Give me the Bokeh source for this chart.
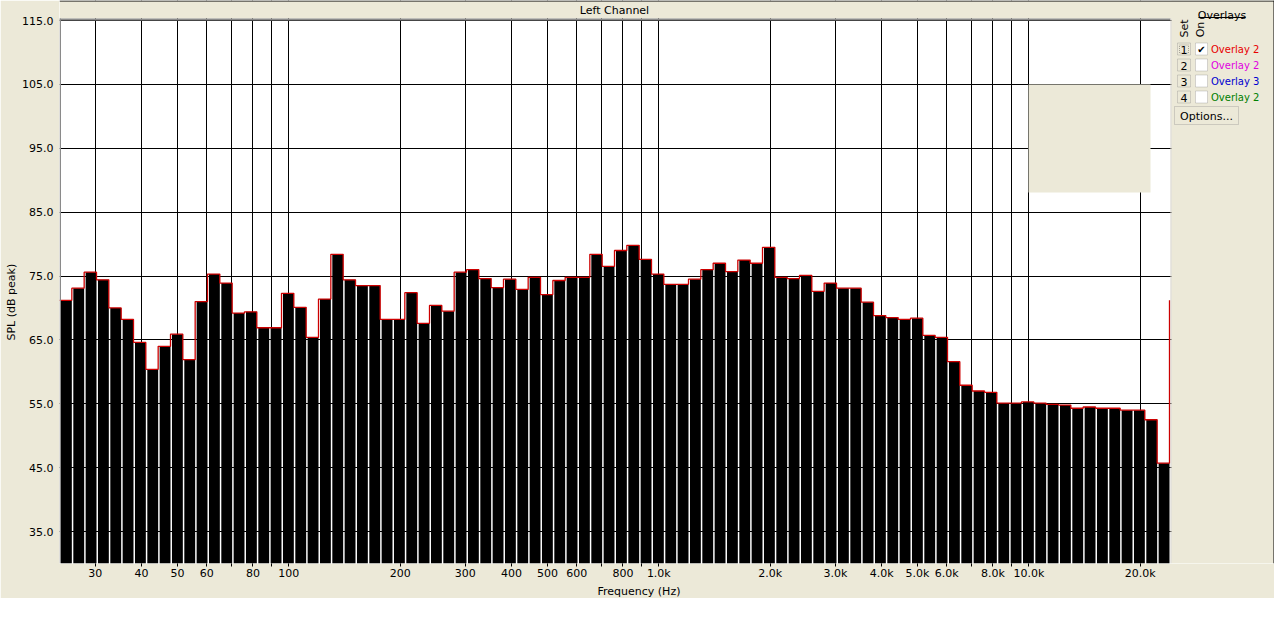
import numpy as np
from bokeh.plotting import figure
from bokeh.models import (Range1d, FixedTicker, CustomJSTickFormatter,
                          PrintfTickFormatter, Label, BoxAnnotation, LinearScale, Title)
from bokeh.embed import file_html
from bokeh.resources import INLINE

# ---------------- data ----------------
spl_db = [71.2, 73.1, 75.6, 74.4, 70.0, 68.2, 64.6, 60.4, 64.0, 65.9,
          61.9, 71.0, 75.3, 73.9, 69.2, 69.4, 66.9, 66.9, 72.3, 70.1,
          65.4, 71.4, 78.4, 74.4, 73.5, 73.5, 68.2, 68.2, 72.4, 67.6,
          70.4, 69.5, 75.6, 76.0, 74.6, 73.2, 74.5, 72.9, 74.8, 72.1,
          74.3, 74.8, 74.8, 78.4, 76.5, 79.0, 79.8, 77.6, 75.3, 73.7,
          73.7, 74.5, 76.0, 77.0, 75.7, 77.5, 77.0, 79.5, 74.8, 74.6,
          75.1, 72.6, 73.9, 73.1, 73.1, 70.9, 68.8, 68.5, 68.2, 68.4,
          65.7, 65.4, 61.6, 57.9, 57.0, 56.8, 55.1, 55.1, 55.3, 55.1,
          54.9, 54.8, 54.3, 54.5, 54.3, 54.3, 54.0, 54.0, 52.5, 45.7]

freq_min_hz = 24.0
freq_max_hz = 24000.0
bands_per_decade = 30
y_min, y_max = 30.0, 115.0

grid_freqs = [30, 40, 50, 60, 70, 80, 90,
              100, 200, 300, 400, 500, 600, 700, 800, 900,
              1000, 2000, 3000, 4000, 5000, 6000, 7000, 8000, 9000,
              10000, 20000]
label_freqs = [30, 40, 50, 60, 80, 100, 200, 300, 400, 500, 600, 800,
               1000, 2000, 3000, 4000, 5000, 6000, 8000, 10000, 20000]
label_texts = ["30", "40", "50", "60", "80", "100", "200", "300", "400",
               "500", "600", "800", "1.0k", "2.0k", "3.0k", "4.0k", "5.0k",
               "6.0k", "8.0k", "10.0k", "20.0k"]
y_ticks = [35, 45, 55, 65, 75, 85, 95, 105, 115]

overlay_names = ["Overlay 2", "Overlay 2", "Overlay 3", "Overlay 2"]
overlay_colors = ["#E80000", "#E000E0", "#0000D0", "#008000"]
overlay_on = [True, False, False, False]

# ---------------- layout (canvas pixels) ----------------
FONT = "DejaVu Sans"
BEIGE = "#ECE9D8"
W, H = 1274, 598
PLOT_L, PLOT_R, PLOT_T, PLOT_B = 59, 1169, 20, 563   # data area in the window
FRAME_T = 0                                           # frame extends to top / right edge

dec_px = (PLOT_R - PLOT_L) / np.log10(freq_max_hz / freq_min_hz)
x_end = freq_max_hz * 10 ** ((W - PLOT_R) / dec_px)
db_px = (PLOT_B - PLOT_T) / (y_max - y_min)
y_end = y_max + (PLOT_T - FRAME_T) / db_px

n = len(spl_db)
idx = np.arange(n)
edges = freq_min_hz * 10 ** (np.arange(n + 1) / bands_per_decade)
bar_left = freq_min_hz * 10 ** ((idx + 0.12) / bands_per_decade)
bar_right = edges[1:]

p = figure(width=W, height=H, x_axis_type="log",
           x_range=Range1d(freq_min_hz, x_end),
           y_range=Range1d(y_min, y_end),
           output_backend="svg", toolbar_location=None,
           min_border_left=PLOT_L, min_border_right=0,
           min_border_top=FRAME_T, min_border_bottom=H - PLOT_B,
           background_fill_color="white", border_fill_color=BEIGE,
           outline_line_color=None)

# linear pixel coordinate system for decorations (canvas pixels, y down)
p.extra_x_ranges = {"px": Range1d(PLOT_L, W)}
p.extra_y_ranges = {"px": Range1d(PLOT_B, FRAME_T)}
p.extra_x_scales = {"px": LinearScale()}
p.extra_y_scales = {"px": LinearScale()}

# grid / axes
xt = FixedTicker(ticks=grid_freqs, minor_ticks=[])
yt = FixedTicker(ticks=y_ticks, minor_ticks=[])
p.xaxis.ticker = xt
p.yaxis.ticker = yt
p.xgrid.ticker = xt
p.ygrid.ticker = yt
for g in (p.xgrid, p.ygrid):
    g.grid_line_color = "black"
    g.grid_line_alpha = 1.0
    g.grid_line_width = 1

p.xaxis.formatter = CustomJSTickFormatter(
    args=dict(vals=label_freqs, labs=label_texts),
    code="""
    for (let i = 0; i < vals.length; i++) {
        if (Math.abs(vals[i] - tick) < 1e-6 * vals[i]) return labs[i];
    }
    return "";
    """)
p.yaxis.formatter = PrintfTickFormatter(format="%.1f")

ax = p.xaxis[0]
ax.axis_line_color = None
ax.major_tick_out = 3
ax.major_tick_in = 0
ax.major_tick_line_color = "black"
ax.minor_tick_line_color = None
ax.major_label_standoff = 0
ax.axis_label_standoff = 0
ax.major_label_text_font = FONT
ax.major_label_text_font_size = "11px"
ax.major_label_text_color = "black"

ay = p.yaxis[0]
ay.axis_line_color = None
ay.major_tick_out = 0
ay.major_tick_in = 0
ay.major_tick_line_color = None
ay.minor_tick_line_color = None
ay.major_label_standoff = 6
ay.axis_label_standoff = 0
ay.major_label_text_font = FONT
ay.major_label_text_font_size = "11px"
ay.major_label_text_color = "black"

# axis titles placed in the side panels
p.add_layout(Title(text="Frequency (Hz)", align="left", offset=538, standoff=0,
                   text_font=FONT, text_font_size="11px", text_font_style="normal",
                   text_color="black"), "below")
p.add_layout(Title(text="SPL (dB peak)", align="left", offset=223, standoff=3,
                   text_font=FONT, text_font_size="11px", text_font_style="normal",
                   text_color="black"), "left")

# bars
p.quad(left=bar_left, right=bar_right, bottom=y_min, top=spl_db,
       fill_color="black", line_color=None)

# overlay outline (step line)
vals = np.array(spl_db)
sx = list(np.repeat(edges, 2)[1:-1]) + [edges[-1]]
sy = list(np.repeat(vals, 2)) + [vals[0]]
p.line(sx, sy, line_color="#CC0000", line_width=1.3)


def px_box(l, r, t, b, **kw):
    box = BoxAnnotation(left=l, right=r, top=t, bottom=b,
                        x_range_name="px", y_range_name="px", **kw)
    p.add_layout(box)
    return box


def px_label(x, y, text, size="11px", color="black", align="left",
             baseline="middle", angle=0.0):
    lab = Label(x=x, y=y, text=text, x_range_name="px", y_range_name="px",
                text_font=FONT, text_font_size=size, text_color=color,
                text_align=align, text_baseline=baseline, angle=angle)
    p.add_layout(lab)
    return lab


# window chrome: header strip and right panel in beige
px_box(PLOT_L, W, FRAME_T, PLOT_T - 2, fill_color=BEIGE, fill_alpha=1, line_color=None)
px_box(PLOT_R + 2, W, FRAME_T, PLOT_B, fill_color=BEIGE, fill_alpha=1, line_color=None)
# plot area borders
px_box(PLOT_L, PLOT_R + 1, PLOT_T - 2, PLOT_T, fill_color="#8A8A8A", fill_alpha=1, line_color=None)
px_box(PLOT_L, PLOT_L + 1.5, PLOT_T - 2, PLOT_B, fill_color="#8A8A8A", fill_alpha=1, line_color=None)
px_box(PLOT_R + 1, PLOT_R + 2, PLOT_T - 2, PLOT_B, fill_color="#D4D0C8", fill_alpha=1, line_color=None)
# empty legend box inside the plot
px_box(1028, 1150, 84, 192, fill_color=BEIGE, fill_alpha=1, line_color=None)
# window top / right black border
px_box(PLOT_L, W, 0, 1, fill_color="black", fill_alpha=1, line_color=None)
px_box(W - 1, W, 0, PLOT_B, fill_color="black", fill_alpha=1, line_color=None)

# title
px_label(614, 10, "Left Channel", align="center")

# overlays panel
px_label(1221.5, 15, "Overlays", align="center", baseline="alphabetic")
px_box(1198, 1245, 16.5, 17.5, fill_color="black", fill_alpha=1, line_color=None)
px_label(1184, 28, "Set", align="center", angle=np.pi / 2)
px_label(1200, 29, "On", align="center", angle=np.pi / 2)

for i, (name, col, on) in enumerate(zip(overlay_names, overlay_colors, overlay_on)):
    cy = 48.5 + 16 * i
    # set button
    px_box(1177, 1190, cy - 6, cy + 6, fill_color=BEIGE, fill_alpha=1,
           line_color="#808080", line_width=1)
    if i == 0:
        px_box(1179, 1188, cy - 4, cy + 4, fill_color=None, line_color="black",
               line_width=1, line_dash="1 1")
    px_label(1183.5, cy + 0.5, str(i + 1), align="center")
    # check box
    px_box(1195, 1207, cy - 6, cy + 6, fill_color="white", fill_alpha=1,
           line_color="#808080", line_width=1)
    if on:
        px_label(1201, cy + 0.5, "\u2714", size="10px", align="center")
    px_label(1210.5, cy + 0.5, name, size="10px", color=col)

# options button
px_box(1174, 1238, 106, 124, fill_color=BEIGE, fill_alpha=1,
       line_color="#808080", line_width=1)
px_label(1206, 115.5, "Options...", align="center")

open("out.html", "w").write(file_html(p, INLINE))
